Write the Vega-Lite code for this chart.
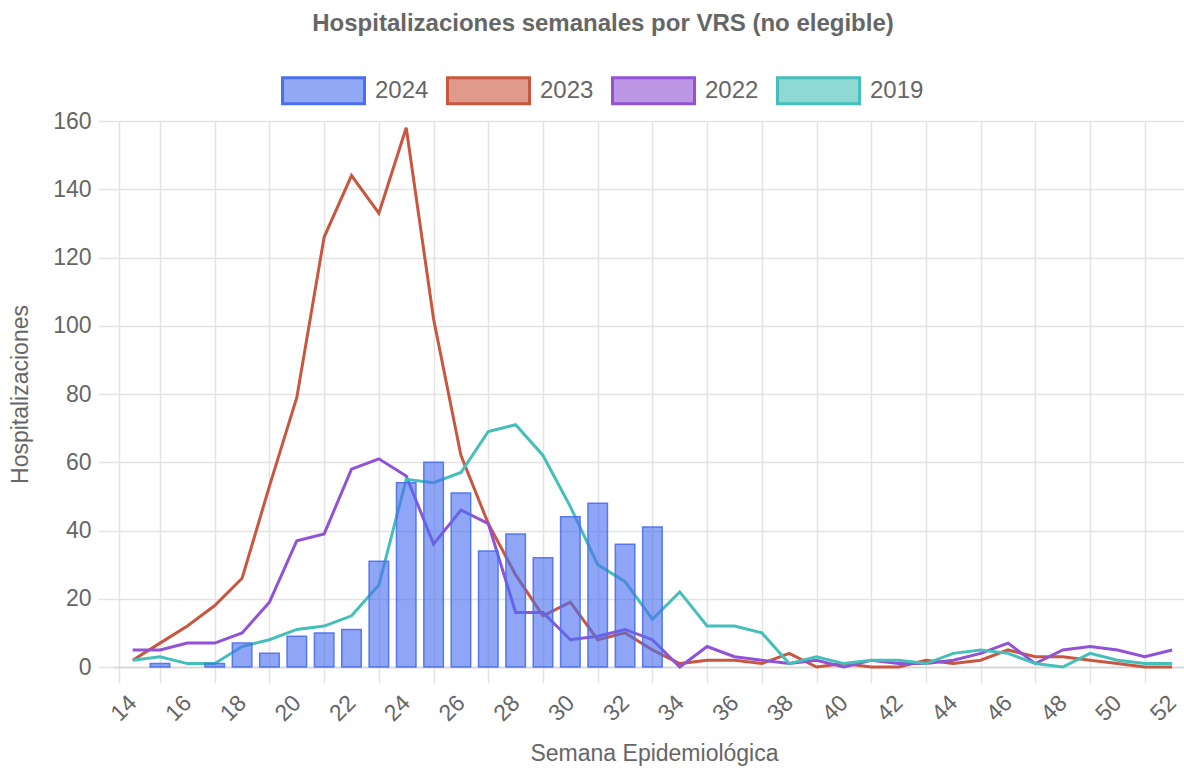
{
  "$schema": "https://vega.github.io/schema/vega-lite/v6.json",
  "width": 1070,
  "height": 546,
  "autosize": {"type": "none"},
  "padding": {"left": 114, "top": 121, "right": 0, "bottom": 102},
  "background": "white",
  "config": {
    "view": {"stroke": null},
    "font": "Liberation Sans",
    "text": {"font": "Liberation Sans"}
  },
  "title": {
    "text": "Hospitalizaciones semanales por VRS (no elegible)",
    "font": "Liberation Sans",
    "fontSize": 24,
    "fontWeight": "bold",
    "color": "#666666",
    "anchor": "middle",
    "frame": "group",
    "dx": -46,
    "offset": 12
  },
  "data": {
    "values": [
      {"semana": 15, "serie": "2024", "valor": 1},
      {"semana": 17, "serie": "2024", "valor": 1},
      {"semana": 18, "serie": "2024", "valor": 7},
      {"semana": 19, "serie": "2024", "valor": 4},
      {"semana": 20, "serie": "2024", "valor": 9},
      {"semana": 21, "serie": "2024", "valor": 10},
      {"semana": 22, "serie": "2024", "valor": 11},
      {"semana": 23, "serie": "2024", "valor": 31},
      {"semana": 24, "serie": "2024", "valor": 54},
      {"semana": 25, "serie": "2024", "valor": 60},
      {"semana": 26, "serie": "2024", "valor": 51},
      {"semana": 27, "serie": "2024", "valor": 34},
      {"semana": 28, "serie": "2024", "valor": 39},
      {"semana": 29, "serie": "2024", "valor": 32},
      {"semana": 30, "serie": "2024", "valor": 44},
      {"semana": 31, "serie": "2024", "valor": 48},
      {"semana": 32, "serie": "2024", "valor": 36},
      {"semana": 33, "serie": "2024", "valor": 41},

      {"semana": 14, "serie": "2023", "valor": 2},
      {"semana": 15, "serie": "2023", "valor": 7},
      {"semana": 16, "serie": "2023", "valor": 12},
      {"semana": 17, "serie": "2023", "valor": 18},
      {"semana": 18, "serie": "2023", "valor": 26},
      {"semana": 19, "serie": "2023", "valor": 53},
      {"semana": 20, "serie": "2023", "valor": 79},
      {"semana": 21, "serie": "2023", "valor": 126},
      {"semana": 22, "serie": "2023", "valor": 144},
      {"semana": 23, "serie": "2023", "valor": 133},
      {"semana": 24, "serie": "2023", "valor": 158},
      {"semana": 25, "serie": "2023", "valor": 102},
      {"semana": 26, "serie": "2023", "valor": 62},
      {"semana": 27, "serie": "2023", "valor": 42},
      {"semana": 28, "serie": "2023", "valor": 27},
      {"semana": 29, "serie": "2023", "valor": 15},
      {"semana": 30, "serie": "2023", "valor": 19},
      {"semana": 31, "serie": "2023", "valor": 8},
      {"semana": 32, "serie": "2023", "valor": 10},
      {"semana": 33, "serie": "2023", "valor": 5},
      {"semana": 34, "serie": "2023", "valor": 1},
      {"semana": 35, "serie": "2023", "valor": 2},
      {"semana": 36, "serie": "2023", "valor": 2},
      {"semana": 37, "serie": "2023", "valor": 1},
      {"semana": 38, "serie": "2023", "valor": 4},
      {"semana": 39, "serie": "2023", "valor": 0},
      {"semana": 40, "serie": "2023", "valor": 1},
      {"semana": 41, "serie": "2023", "valor": 0},
      {"semana": 42, "serie": "2023", "valor": 0},
      {"semana": 43, "serie": "2023", "valor": 2},
      {"semana": 44, "serie": "2023", "valor": 1},
      {"semana": 45, "serie": "2023", "valor": 2},
      {"semana": 46, "serie": "2023", "valor": 5},
      {"semana": 47, "serie": "2023", "valor": 3},
      {"semana": 48, "serie": "2023", "valor": 3},
      {"semana": 49, "serie": "2023", "valor": 2},
      {"semana": 50, "serie": "2023", "valor": 1},
      {"semana": 51, "serie": "2023", "valor": 0},
      {"semana": 52, "serie": "2023", "valor": 0},

      {"semana": 14, "serie": "2022", "valor": 5},
      {"semana": 15, "serie": "2022", "valor": 5},
      {"semana": 16, "serie": "2022", "valor": 7},
      {"semana": 17, "serie": "2022", "valor": 7},
      {"semana": 18, "serie": "2022", "valor": 10},
      {"semana": 19, "serie": "2022", "valor": 19},
      {"semana": 20, "serie": "2022", "valor": 37},
      {"semana": 21, "serie": "2022", "valor": 39},
      {"semana": 22, "serie": "2022", "valor": 58},
      {"semana": 23, "serie": "2022", "valor": 61},
      {"semana": 24, "serie": "2022", "valor": 56},
      {"semana": 25, "serie": "2022", "valor": 36},
      {"semana": 26, "serie": "2022", "valor": 46},
      {"semana": 27, "serie": "2022", "valor": 42},
      {"semana": 28, "serie": "2022", "valor": 16},
      {"semana": 29, "serie": "2022", "valor": 16},
      {"semana": 30, "serie": "2022", "valor": 8},
      {"semana": 31, "serie": "2022", "valor": 9},
      {"semana": 32, "serie": "2022", "valor": 11},
      {"semana": 33, "serie": "2022", "valor": 8},
      {"semana": 34, "serie": "2022", "valor": 0},
      {"semana": 35, "serie": "2022", "valor": 6},
      {"semana": 36, "serie": "2022", "valor": 3},
      {"semana": 37, "serie": "2022", "valor": 2},
      {"semana": 38, "serie": "2022", "valor": 1},
      {"semana": 39, "serie": "2022", "valor": 2},
      {"semana": 40, "serie": "2022", "valor": 0},
      {"semana": 41, "serie": "2022", "valor": 2},
      {"semana": 42, "serie": "2022", "valor": 1},
      {"semana": 43, "serie": "2022", "valor": 1},
      {"semana": 44, "serie": "2022", "valor": 2},
      {"semana": 45, "serie": "2022", "valor": 4},
      {"semana": 46, "serie": "2022", "valor": 7},
      {"semana": 47, "serie": "2022", "valor": 1},
      {"semana": 48, "serie": "2022", "valor": 5},
      {"semana": 49, "serie": "2022", "valor": 6},
      {"semana": 50, "serie": "2022", "valor": 5},
      {"semana": 51, "serie": "2022", "valor": 3},
      {"semana": 52, "serie": "2022", "valor": 5},

      {"semana": 14, "serie": "2019", "valor": 2},
      {"semana": 15, "serie": "2019", "valor": 3},
      {"semana": 16, "serie": "2019", "valor": 1},
      {"semana": 17, "serie": "2019", "valor": 1},
      {"semana": 18, "serie": "2019", "valor": 6},
      {"semana": 19, "serie": "2019", "valor": 8},
      {"semana": 20, "serie": "2019", "valor": 11},
      {"semana": 21, "serie": "2019", "valor": 12},
      {"semana": 22, "serie": "2019", "valor": 15},
      {"semana": 23, "serie": "2019", "valor": 24},
      {"semana": 24, "serie": "2019", "valor": 55},
      {"semana": 25, "serie": "2019", "valor": 54},
      {"semana": 26, "serie": "2019", "valor": 57},
      {"semana": 27, "serie": "2019", "valor": 69},
      {"semana": 28, "serie": "2019", "valor": 71},
      {"semana": 29, "serie": "2019", "valor": 62},
      {"semana": 30, "serie": "2019", "valor": 47},
      {"semana": 31, "serie": "2019", "valor": 30},
      {"semana": 32, "serie": "2019", "valor": 25},
      {"semana": 33, "serie": "2019", "valor": 14},
      {"semana": 34, "serie": "2019", "valor": 22},
      {"semana": 35, "serie": "2019", "valor": 12},
      {"semana": 36, "serie": "2019", "valor": 12},
      {"semana": 37, "serie": "2019", "valor": 10},
      {"semana": 38, "serie": "2019", "valor": 1},
      {"semana": 39, "serie": "2019", "valor": 3},
      {"semana": 40, "serie": "2019", "valor": 1},
      {"semana": 41, "serie": "2019", "valor": 2},
      {"semana": 42, "serie": "2019", "valor": 2},
      {"semana": 43, "serie": "2019", "valor": 1},
      {"semana": 44, "serie": "2019", "valor": 4},
      {"semana": 45, "serie": "2019", "valor": 5},
      {"semana": 46, "serie": "2019", "valor": 4},
      {"semana": 47, "serie": "2019", "valor": 1},
      {"semana": 48, "serie": "2019", "valor": 0},
      {"semana": 49, "serie": "2019", "valor": 4},
      {"semana": 50, "serie": "2019", "valor": 2},
      {"semana": 51, "serie": "2019", "valor": 1},
      {"semana": 52, "serie": "2019", "valor": 1}
    ]
  },
  "encoding": {
    "x": {
      "field": "semana",
      "type": "quantitative",
      "scale": {"domain": [13.5, 52.25], "nice": false, "zero": false},
      "axis": {
        "values": [13.5, 14, 15, 16, 17, 18, 19, 20, 21, 22, 23, 24, 25, 26, 27, 28, 29, 30, 31, 32, 33, 34, 35, 36, 37, 38, 39, 40, 41, 42, 43, 44, 45, 46, 47, 48, 49, 50, 51, 52],
        "labelExpr": "datum.value % 2 == 0 ? datum.label : ''",
        "labelAngle": -45,
        "labelAlign": "right",
        "labelBaseline": "middle",
        "labelFont": "Liberation Sans",
        "labelFontSize": 23,
        "labelColor": "#666666",
        "labelPadding": 16,
        "labelOverlap": false,
        "labelFlush": false,
        "labelBound": false,
        "grid": true,
        "gridColor": "#e3e3e3",
        "gridWidth": 1.5,
        "gridOpacity": {"condition": {"test": "datum.value % 2 != 0", "value": 1}, "value": 0},
        "ticks": true,
        "tickColor": "#e3e3e3",
        "tickWidth": 1.5,
        "tickSize": 16,
        "tickOpacity": {"condition": {"test": "datum.value % 2 != 0", "value": 1}, "value": 0},
        "domain": true,
        "domainColor": "#d4d4d4",
        "domainWidth": 1.5,
        "title": "Semana Epidemiológica",
        "titleFont": "Liberation Sans",
        "titleFontSize": 23,
        "titleFontWeight": "normal",
        "titleColor": "#666666",
        "titleX": 540,
        "titleY": 86,
        "titleBaseline": "middle"
      }
    },
    "y": {
      "field": "valor",
      "type": "quantitative",
      "scale": {"domain": [0, 160], "nice": false},
      "axis": {
        "values": [0, 20, 40, 60, 80, 100, 120, 140, 160],
        "labelFont": "Liberation Sans",
        "labelFontSize": 23,
        "labelColor": "#666666",
        "labelPadding": 7,
        "grid": true,
        "gridColor": "#e3e3e3",
        "gridWidth": 1.5,
        "tickColor": "#e3e3e3",
        "tickWidth": 1.5,
        "tickSize": 16,
        "domain": false,
        "title": "Hospitalizaciones",
        "titleFont": "Liberation Sans",
        "titleFontSize": 23,
        "titleFontWeight": "normal",
        "titleColor": "#666666",
        "titlePadding": 20
      }
    },
    "color": {
      "field": "serie",
      "type": "nominal",
      "scale": {
        "domain": ["2024", "2023", "2022", "2019"],
        "range": ["#4a6ff0", "#c9573f", "#9152d6", "#44bfb9"]
      },
      "legend": {
        "title": null,
        "orient": "none",
        "direction": "horizontal",
        "legendX": 167,
        "legendY": -73,
        "labelFont": "Liberation Sans",
        "labelFontSize": 24,
        "labelColor": "#666666",
        "labelOffset": 9,
        "columnPadding": 12,
        "symbolType": "M-1,-0.317H1V0.317H-1Z",
        "symbolSize": 6724,
        "encode": {
          "symbols": {
            "update": {
              "fill": {"scale": "color", "field": "value"},
              "fillOpacity": {"value": 0.6},
              "stroke": {"scale": "color", "field": "value"},
              "strokeWidth": {"value": 3},
              "opacity": {"value": 1}
            }
          }
        }
      }
    }
  },
  "layer": [
    {
      "transform": [{"filter": "datum.serie != '2024'"}],
      "mark": {"type": "line", "strokeWidth": 3, "interpolate": "linear"}
    },
    {
      "transform": [{"filter": "datum.serie == '2024'"}],
      "mark": {"type": "bar", "size": 19.5, "fillOpacity": 0.62, "stroke": "#4a6ff0", "strokeWidth": 1.5, "strokeOpacity": 0.9}
    }
  ]
}
